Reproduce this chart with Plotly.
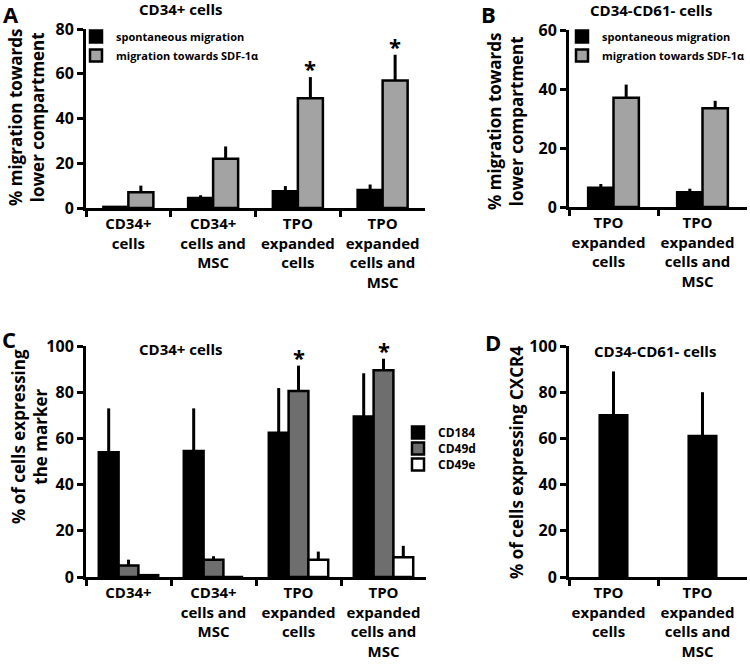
import plotly.graph_objects as go

# ---- data ----
a_groups = ["CD34+<br>cells", "CD34+<br>cells and<br>MSC",
            "TPO<br>expanded<br>cells", "TPO<br>expanded<br>cells and<br>MSC"]
a_spont = [0.5, 4.5, 7.5, 8]
a_spont_err = [0.3, 1.2, 2.3, 2.5]
a_sdf = [7, 22, 49, 57]
a_sdf_err = [3, 5.5, 9.5, 11.5]
a_star = [False, False, True, True]

b_groups = ["TPO<br>expanded<br>cells", "TPO<br>expanded<br>cells and<br>MSC"]
b_spont = [6.5, 5]
b_spont_err = [1.3, 1.2]
b_sdf = [37, 33.5]
b_sdf_err = [4.5, 2.5]

c_groups = ["CD34+", "CD34+<br>cells and<br>MSC",
            "TPO<br>expanded<br>cells", "TPO<br>expanded<br>cells and<br>MSC"]
c_cd184 = [54, 54.5, 62.5, 69.5]
c_cd184_err = [19, 18.5, 19.3, 18.7]
c_cd49d = [5, 7.5, 80.5, 89.5]
c_cd49d_err = [2.5, 1.5, 11, 5]
c_cd49e = [0.8, 0, 7.5, 8.5]
c_cd49e_err = [0.5, 0, 3.5, 5]
c_star = [False, False, True, True]

d_groups = ["TPO<br>expanded<br>cells", "TPO<br>expanded<br>cells and<br>MSC"]
d_cxcr4 = [70, 61]
d_cxcr4_err = [19, 19]

FONT = "Open Sans, DejaVu Sans, sans-serif"
W, H = 750, 672
WA, WB, WC, WD = 0.295, 0.285, 0.233, 0.31   # bar widths (category units)


def f(size):
    return dict(family=FONT, size=size, color='black', weight='bold')


def err(vals):
    return dict(type='data', array=vals, arrayminus=[0] * len(vals), symmetric=False,
                color='black', thickness=3, width=0)


def bar(x, y, e, name, color, xa, ya, w, off, legend=None, show=True):
    return go.Bar(x=x, y=y, error_y=err(e), name=name, xaxis=xa, yaxis=ya,
                  width=w, offset=off,
                  marker=dict(color=color, line=dict(color='black', width=2.5)),
                  legend=legend, showlegend=show)


fig = go.Figure()
fig.add_trace(bar(a_groups, a_spont, a_spont_err, "spontaneous migration", "black", "x", "y", WA, -WA, "legend"))
fig.add_trace(bar(a_groups, a_sdf, a_sdf_err, "migration towards SDF-1α", "#a3a3a3", "x", "y", WA, 0, "legend"))
fig.add_trace(bar(b_groups, b_spont, b_spont_err, "spontaneous migration", "black", "x2", "y2", WB, -WB, "legend2"))
fig.add_trace(bar(b_groups, b_sdf, b_sdf_err, "migration towards SDF-1α", "#a3a3a3", "x2", "y2", WB, 0, "legend2"))
fig.add_trace(bar(c_groups, c_cd184, c_cd184_err, "CD184", "black", "x3", "y3", WC, -1.5 * WC, "legend3"))
fig.add_trace(bar(c_groups, c_cd49d, c_cd49d_err, "CD49d", "#6e6e6e", "x3", "y3", WC, -0.5 * WC, "legend4"))
fig.add_trace(bar(c_groups, c_cd49e, c_cd49e_err, "CD49e", "white", "x3", "y3", WC, 0.5 * WC, "legend5"))
fig.add_trace(bar(d_groups, d_cxcr4, d_cxcr4_err, "CXCR4", "black", "x4", "y4", WD, -0.5 * WD, show=False))


def px_x(a, b):
    return [a / W, b / W]


def px_y(top, bottom):
    return [1 - bottom / H, 1 - top / H]


axis_common = dict(showline=True, linewidth=3, linecolor='black', ticks='outside',
                   tickwidth=3, ticklen=6, tickcolor='black', showgrid=False, zeroline=False,
                   automargin=False, tickfont=f(16))

xcat = dict(axis_common, tickson='boundaries', tickangle=0, tickfont=f(15))


def leg(x, y, size):
    return dict(x=x / W, y=1 - y / H, xanchor='left', yanchor='top', bgcolor='rgba(0,0,0,0)',
                font=f(size), borderwidth=0)


fig.update_layout(
    width=W, height=H, margin=dict(l=0, r=0, t=0, b=0),
    paper_bgcolor='white', plot_bgcolor='white',
    font=dict(family=FONT, color='black', weight='bold'),
    barmode='group',
    xaxis=dict(xcat, domain=px_x(86, 425), anchor='y', range=[-0.5, len(a_groups) - 0.5]),
    yaxis=dict(axis_common, domain=px_y(29, 208), anchor='x', range=[0, 80], dtick=20),
    xaxis2=dict(xcat, domain=px_x(569, 747), anchor='y2', range=[-0.5, len(b_groups) - 0.5],
                ticklabelshift=-5),
    yaxis2=dict(axis_common, domain=px_y(30, 207), anchor='x2', range=[0, 60], dtick=20),
    xaxis3=dict(xcat, domain=px_x(86, 426), anchor='y3', range=[-0.5, len(c_groups) - 0.5]),
    yaxis3=dict(axis_common, domain=px_y(346, 577), anchor='x3', range=[0, 100], dtick=20),
    xaxis4=dict(xcat, domain=px_x(569, 747), anchor='y4', range=[-0.5, len(d_groups) - 0.5],
                ticklabelshift=-5),
    yaxis4=dict(axis_common, domain=px_y(346, 577), anchor='x4', range=[0, 100], dtick=20),
    legend=leg(76, 22, 11),
    legend2=leg(562, 22, 11),
    legend3=leg(398, 418, 12),
    legend4=leg(398, 434, 12),
    legend5=leg(398, 450, 12),
)

annos = []
# panel letters
for letter, x, y in [("A", 1, 14), ("B", 479, 14), ("C", 0, 339), ("D", 483, 342)]:
    annos.append(dict(text=letter, x=x / W, y=1 - y / H, xref='paper', yref='paper',
                      xanchor='left', yanchor='middle', showarrow=False, font=f(22)))
# panel titles
for t, x, y in [("CD34+ cells", 180, 9), ("CD34-CD61- cells", 651, 10),
                ("CD34+ cells", 180, 349), ("CD34-CD61- cells", 655, 351)]:
    annos.append(dict(text=t, x=x / W, y=1 - y / H, xref='paper', yref='paper',
                      xanchor='center', yanchor='middle', showarrow=False, font=f(15)))
# y-axis titles
for t, x, y in [("% migration towards<br>lower compartment", 27, 117),
                ("% migration towards<br>lower compartment", 505, 121),
                ("% of cells expressing<br>the marker", 29, 437),
                ("% of cells expressing CXCR4", 516, 463)]:
    annos.append(dict(text=t, x=x / W, y=1 - y / H, xref='paper', yref='paper',
                      xanchor='center', yanchor='middle', textangle=-90, showarrow=False,
                      font=f(17)))

# significance stars above the SDF-1a / CD49d bars
for i, s in enumerate(a_star):
    if s:
        annos.append(dict(text="*", x=i + WA / 2, y=a_sdf[i] + a_sdf_err[i], xref='x', yref='y',
                          yanchor='bottom', showarrow=False, yshift=-8, font=f(22)))
for i, s in enumerate(c_star):
    if s:
        annos.append(dict(text="*", x=i, y=c_cd49d[i] + c_cd49d_err[i], xref='x3', yref='y3',
                          yanchor='bottom', showarrow=False, yshift=-8, font=f(22)))

fig.update_layout(annotations=annos)

# drop the page's default body margin so the figure sits at the window's corner
fig.write_html("out.html", config={'displayModeBar': False},
               post_script="document.body.style.margin='0px';document.body.style.overflow='hidden';")
